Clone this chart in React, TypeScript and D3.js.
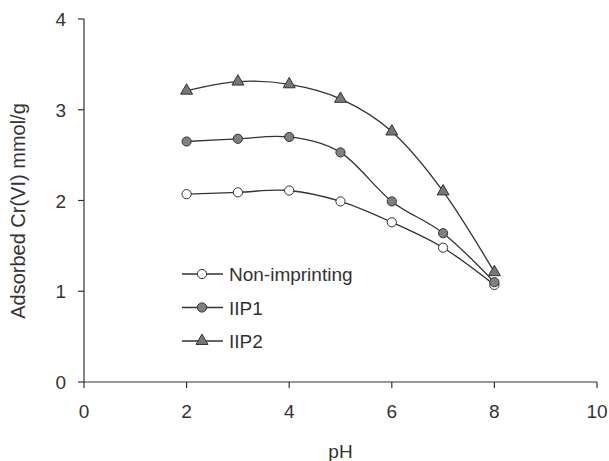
import React from "react";
import * as d3 from "d3";

const pH = [2, 3, 4, 5, 6, 7, 8];
const nonImprinting = [2.07, 2.09, 2.11, 1.99, 1.76, 1.48, 1.07];
const iip1 = [2.65, 2.68, 2.7, 2.53, 1.99, 1.64, 1.1];
const iip2 = [3.21, 3.31, 3.28, 3.12, 2.76, 2.1, 1.21];
const xTicks = [0, 2, 4, 6, 8, 10];
const yTicks = [0, 1, 2, 3, 4];
const seriesNames = ["Non-imprinting", "IIP1", "IIP2"];

const W = 609;
const H = 461;
const FONT = "'Liberation Sans', Arial, sans-serif";
const INK = "#333";

export default function App() {
  const x = d3.scaleLinear().domain([0, 10]).range([84, 597]);
  const y = d3.scaleLinear().domain([0, 4]).range([382, 19]);
  const line = d3
    .line<number>()
    .x((_, i) => x(pH[i]))
    .y((d) => y(d))
    .curve(d3.curveCatmullRom.alpha(0));

  const series = [
    { name: seriesNames[0], values: nonImprinting, marker: "circle", fill: "#fff" },
    { name: seriesNames[1], values: iip1, marker: "circle", fill: "#808080" },
    { name: seriesNames[2], values: iip2, marker: "triangle", fill: "#777" },
  ];

  const marker = (kind: string, fill: string, cx: number, cy: number, key: string) =>
    kind === "circle" ? (
      <circle key={key} cx={cx} cy={cy} r={4.6} fill={fill} stroke={INK} strokeWidth={1} />
    ) : (
      <path
        key={key}
        d={d3.symbol().type(d3.symbolTriangle).size(62)()!}
        transform={`translate(${cx},${cy})`}
        fill={fill}
        stroke={INK}
        strokeWidth={1}
      />
    );

  const legendY = d3.scalePoint<string>().domain(seriesNames).range([274, 341]);

  return (
    <svg
      width={W}
      height={H}
      style={{ position: "absolute", left: 0, top: 0, background: "#fff" }}
      fontFamily={FONT}
    >
      <line x1={x(0)} x2={x(10)} y1={y(0)} y2={y(0)} stroke={INK} strokeWidth={1.2} />
      <line x1={x(0)} x2={x(0)} y1={y(0)} y2={y(4)} stroke={INK} strokeWidth={1.2} />
      {xTicks.map((t) => (
        <g key={"x" + t}>
          <line x1={x(t)} x2={x(t)} y1={y(0)} y2={y(0) + 6} stroke={INK} strokeWidth={1.2} />
          <text x={x(t)} y={418} textAnchor="middle" fontSize={19} fill={INK}>
            {t}
          </text>
        </g>
      ))}
      {yTicks.map((t) => (
        <g key={"y" + t}>
          <line x1={x(0) - 6} x2={x(0)} y1={y(t)} y2={y(t)} stroke={INK} strokeWidth={1.2} />
          <text x={66} y={y(t) + 7} textAnchor="end" fontSize={19} fill={INK}>
            {t}
          </text>
        </g>
      ))}
      <text x={x(5)} y={458} textAnchor="middle" fontSize={19} fill={INK}>
        pH
      </text>
      <text
        transform={`translate(25,${211}) rotate(-90)`}
        textAnchor="middle"
        fontSize={20}
        fill={INK}
      >
        Adsorbed Cr(VI) mmol/g
      </text>

      {series.map((s) => (
        <g key={s.name}>
          <path d={line(s.values)!} fill="none" stroke={INK} strokeWidth={1.3} />
          {s.values.map((v, i) => marker(s.marker, s.fill, x(pH[i]), y(v), s.name + i))}
        </g>
      ))}

      {series.map((s) => {
        const ly = legendY(s.name)!;
        return (
          <g key={"lg" + s.name}>
            <line x1={182} x2={223} y1={ly} y2={ly} stroke={INK} strokeWidth={1.3} />
            {marker(s.marker, s.fill, 202, ly, "lm" + s.name)}
            <text x={229} y={ly + 7} fontSize={19} fill={INK}>
              {s.name}
            </text>
          </g>
        );
      })}
    </svg>
  );
}
